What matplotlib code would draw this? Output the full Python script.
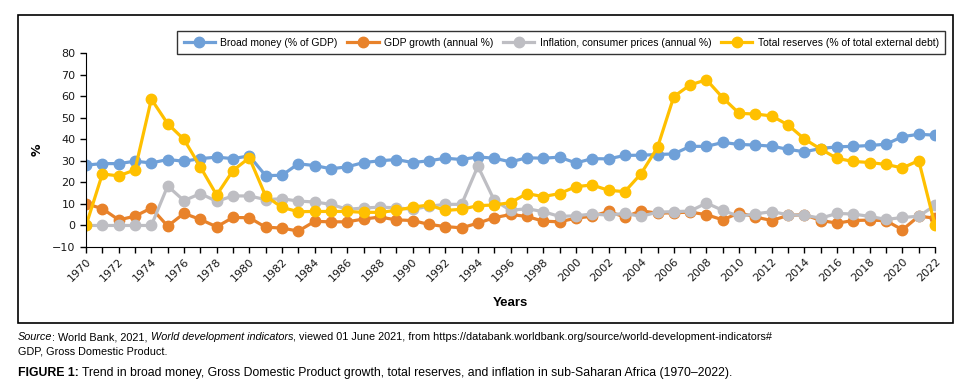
import numpy as np
import matplotlib.pyplot as plt
from matplotlib import font_manager
from matplotlib.patches import Rectangle

years = np.arange(1970, 2023)

broad_money = [28.0, 28.7, 28.7, 29.8, 29.0, 30.6, 29.8, 31.0, 31.7, 31.0,
               32.3, 23.1, 23.3, 28.6, 27.8, 26.3, 27.2, 29.2, 30.0, 30.6,
               29.2, 30.0, 31.2, 30.6, 31.8, 31.2, 29.5, 31.4, 31.2, 31.7,
               29.0, 31.0, 30.9, 32.5, 32.6, 32.9, 33.2, 36.7, 36.7, 38.5,
               37.6, 37.3, 36.8, 35.3, 34.2, 35.7, 36.5, 36.7, 37.1, 37.7,
               41.2, 42.3, 41.9]

gdp_growth = [10.1, 7.8, 2.6, 4.3, 8.1, -0.3, 5.6, 2.8, -0.6, 3.7,
              3.6, -0.8, -1.2, -2.6, 1.9, 1.7, 1.7, 3.0, 3.9, 2.6,
              2.3, 0.5, -0.5, -1.1, 1.1, 3.6, 5.1, 4.2, 2.0, 1.7,
              3.4, 4.3, 6.5, 3.9, 6.8, 5.7, 5.9, 6.2, 5.0, 2.6,
              5.9, 3.9, 2.3, 4.7, 5.0, 2.3, 1.1, 2.3, 2.5, 2.2,
              -2.0, 4.3, 3.4]

inflation = [0.0, 0.0, 0.0, 0.0, 0.0, 18.3, 11.5, 14.8, 11.2, 13.7,
             13.7, 12.0, 12.4, 11.3, 10.9, 9.8, 7.5, 8.1, 8.5, 8.2,
             7.5, 8.9, 9.8, 9.8, 27.5, 11.7, 7.0, 7.8, 6.4, 4.2,
             4.5, 5.3, 4.8, 5.6, 4.2, 6.2, 6.4, 6.7, 10.4, 7.0,
             4.2, 5.4, 6.4, 5.0, 4.7, 3.4, 5.6, 5.3, 4.2, 2.8,
             3.7, 4.3, 9.3]

reserves = [0.0, 23.9, 23.0, 25.8, 58.6, 47.2, 39.9, 27.2, 14.1, 25.5,
            31.4, 13.7, 8.4, 6.4, 6.5, 6.5, 6.5, 6.1, 6.1, 7.0,
            8.5, 9.5, 7.0, 7.5, 9.2, 9.5, 10.6, 14.8, 13.4, 14.8,
            18.0, 18.8, 16.3, 15.7, 24.1, 36.2, 59.8, 65.2, 67.6, 59.2,
            52.0, 51.7, 50.8, 46.6, 40.1, 35.4, 31.1, 29.7, 29.2, 28.3,
            26.7, 30.1, 0.0]

series = [
    ("Broad money (% of GDP)", broad_money, "#6FA0D8"),
    ("GDP growth (annual %)", gdp_growth, "#E8822A"),
    ("Inflation, consumer prices (annual %)", inflation, "#BEBEC3"),
    ("Total reserves (% of total external debt)", reserves, "#FFC000"),
]

# pick a narrow font if one is installed
installed = {f.name for f in font_manager.fontManager.ttflist}
narrow = "Liberation Sans Narrow" if "Liberation Sans Narrow" in installed else "Liberation Sans"

fig = plt.figure(figsize=(9.71, 3.83), dpi=100)
ax = fig.add_axes([0.0886, 0.355, 0.8744, 0.5066])

for name, vals, col in series:
    ax.plot(years, vals, color=col, lw=2.3, marker="o", ms=7.5, label=name)

ax.set_xlim(1970, 2022)
ax.set_ylim(-10, 80)
ax.set_yticks(range(-10, 81, 10))
ax.set_yticklabels([str(v).replace("-", "\u2212") for v in range(-10, 81, 10)])
ax.set_xticks(years)
ax.set_xticklabels([str(y) if y % 2 == 0 else "" for y in years],
                   rotation=45, ha="right", rotation_mode="anchor")
ax.tick_params(axis="both", labelsize=8, colors="black", direction="out",
               length=4, width=1, labelcolor="#1a1a1a")
ax.tick_params(axis="x", pad=3)
for s in ["top", "right"]:
    ax.spines[s].set_visible(False)
ax.set_ylabel("%", fontsize=9, fontweight="bold", labelpad=6)
ax.text(0.5, -0.29, "Years", transform=ax.transAxes, ha="center", va="center",
        fontsize=9.5, fontweight="bold", family=narrow)

leg = fig.legend(loc="center", bbox_to_anchor=(0.578, 0.8885), ncol=4,
                 frameon=True, fancybox=False, edgecolor="black",
                 handlelength=3.0, columnspacing=0.95, handletextpad=0.5,
                 borderpad=0.6, prop={"family": narrow, "size": 7.5})
leg.get_frame().set_linewidth(1)

# chart border
fig.patches.append(Rectangle((18 / 971, 1 - 323 / 383), (953 - 18) / 971, (323 - 15) / 383,
                             transform=fig.transFigure, fill=False, ec="black", lw=1.2))

r = fig.canvas.get_renderer()

x = 18 / 971
y1 = 1 - 337 / 383
for txt, style in [("Source", "italic"), (": World Bank, 2021, ", "normal"),
                   ("World development indicators", "italic"),
                   (", viewed 01 June 2021, from https://databank.worldbank.org/source/world-development-indicators#", "normal")]:
    t = fig.text(x, y1, txt, fontsize=7.8, va="center", style=style, family=narrow)
    x += t.get_window_extent(renderer=r).width / fig.bbox.width

fig.text(18 / 971, 1 - 352 / 383, "GDP, Gross Domestic Product.", fontsize=7.8,
         va="center", family=narrow)

x = 18 / 971
y3 = 1 - 373 / 383
for txt, weight in [("FIGURE 1: ", "bold"),
                    ("Trend in broad money, Gross Domestic Product growth, total reserves, "
                     "and inflation in sub-Saharan Africa (1970\u20132022).", "normal")]:
    t = fig.text(x, y3, txt, fontsize=8.8, va="center", fontweight=weight, family=narrow)
    x += t.get_window_extent(renderer=r).width / fig.bbox.width

fig.savefig("out.png", dpi=100)
